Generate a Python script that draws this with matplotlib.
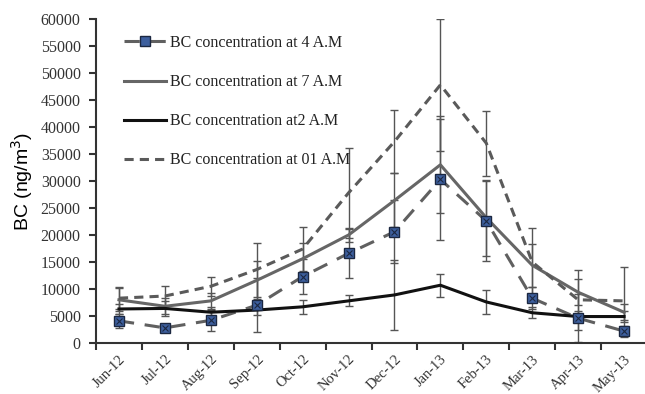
import numpy as np
import matplotlib
matplotlib.use('Agg')
from matplotlib import pyplot as plt

# 月份
months = ['Jun-12', 'Jul-12', 'Aug-12', 'Sep-12', 'Oct-12', 'Nov-12',
          'Dec-12', 'Jan-13', 'Feb-13', 'Mar-13', 'Apr-13', 'May-13']

# BC 浓度 (ng/m3) 及误差
bc_4am = [4100, 2800, 4200, 7000, 12300, 16600, 20600, 30300, 22600, 8300, 4600, 2200]
err_4am = [1300, 0, 2000, 5000, 3300, 4500, 5800, 11200, 7400, 2000, 4400, 1000]

bc_7am = [8000, 6800, 7800, 11600, 15600, 20000, 26400, 33000, 23200, 14400, 9400, 5700]
err_7am = [2100, 1500, 1500, 3500, 3000, 1300, 5000, 9000, 7000, 4000, 2400, 1500]

bc_2am = [6300, 6400, 5700, 6100, 6700, 7800, 8900, 10700, 7600, 5600, 4900, 4900]
err_2am = [1000, 1400, 1000, 1000, 1300, 1000, 6500, 2100, 2200, 1000, 1000, 1000]

bc_01am = [8300, 8700, 10500, 13600, 17400, 27800, 37300, 47800, 37000, 15000, 8000, 7800]
err_01am = [2000, 1800, 1800, 5000, 4000, 8300, 5800, 12200, 6000, 6300, 5500, 6200]

x = np.arange(len(months))

fig = plt.figure(figsize=(6.45, 3.94), dpi=100)
ax = fig.add_axes([96 / 645, 51 / 394, 551 / 645, 324 / 394])

eb_style = dict(fmt='none', ecolor='#555555', elinewidth=1.0, capsize=3, capthick=1.0, zorder=2)
ax.errorbar(x, bc_01am, yerr=err_01am, **eb_style)
ax.errorbar(x, bc_7am, yerr=err_7am, **eb_style)
ax.errorbar(x, bc_2am, yerr=err_2am, **eb_style)
ax.errorbar(x, bc_4am, yerr=err_4am, **eb_style)

l4, = ax.plot(x, bc_4am, color='#606060', lw=2.2, dashes=(5, 3.5), zorder=3)
m4, = ax.plot(x, bc_4am, ls='none', marker='s', ms=7, mfc='#3d5f9e', mec='#1b2740', mew=1.0, zorder=5)
ax.plot(x, bc_4am, ls='none', marker='x', ms=4, mec='#1b2740', mew=0.8, zorder=6)
l7, = ax.plot(x, bc_7am, color='#666666', lw=2.2, zorder=3)
l2, = ax.plot(x, bc_2am, color='#111111', lw=2.2, zorder=3)
l01, = ax.plot(x, bc_01am, color='#5a5a5a', lw=2.2, dashes=(3, 2), zorder=3)

ax.set_xlim(-0.5, 11.5)
ax.set_ylim(0, 60000)
ax.set_yticks(np.arange(0, 60001, 5000))
ax.set_xticks(x)
ax.set_xticklabels(months, rotation=45, ha='right', rotation_mode='anchor',
                   family='Liberation Serif', fontsize=10.5)
ax.set_xticks(np.arange(-0.5, 12, 1), minor=True)
ax.tick_params(axis='x', which='major', length=0, pad=7)
ax.tick_params(axis='x', which='minor', length=5, width=1.5, color='#333333')
ax.tick_params(axis='y', length=5, width=1.5, color='#333333', pad=6)
for lab in ax.get_yticklabels():
    lab.set_family('Liberation Serif')
    lab.set_fontsize(11.5)
    lab.set_color('#333333')
for lab in ax.get_xticklabels():
    lab.set_color('#333333')

for s in ['top', 'right']:
    ax.spines[s].set_visible(False)
for s in ['left', 'bottom']:
    ax.spines[s].set_linewidth(1.5)
    ax.spines[s].set_color('#333333')

ax.set_ylabel('BC (ng/m$^3$)', family='Liberation Sans', fontsize=14, labelpad=4)

handles = [(l4, m4), l7, l2, l01]
labels = ['BC concentration at 4 A.M', 'BC concentration at 7 A.M',
          'BC concentration at2 A.M', 'BC concentration at 01 A.M']
fig.legend(handles, labels, loc='upper left', bbox_to_anchor=(116 / 645, 1 - 27 / 394),
           frameon=False, prop={'family': 'Liberation Serif', 'size': 11.5},
           handlelength=2.6, handletextpad=0.3, labelspacing=1.45, borderpad=0,
           labelcolor='#222222')

fig.savefig('out.png', dpi=100)
